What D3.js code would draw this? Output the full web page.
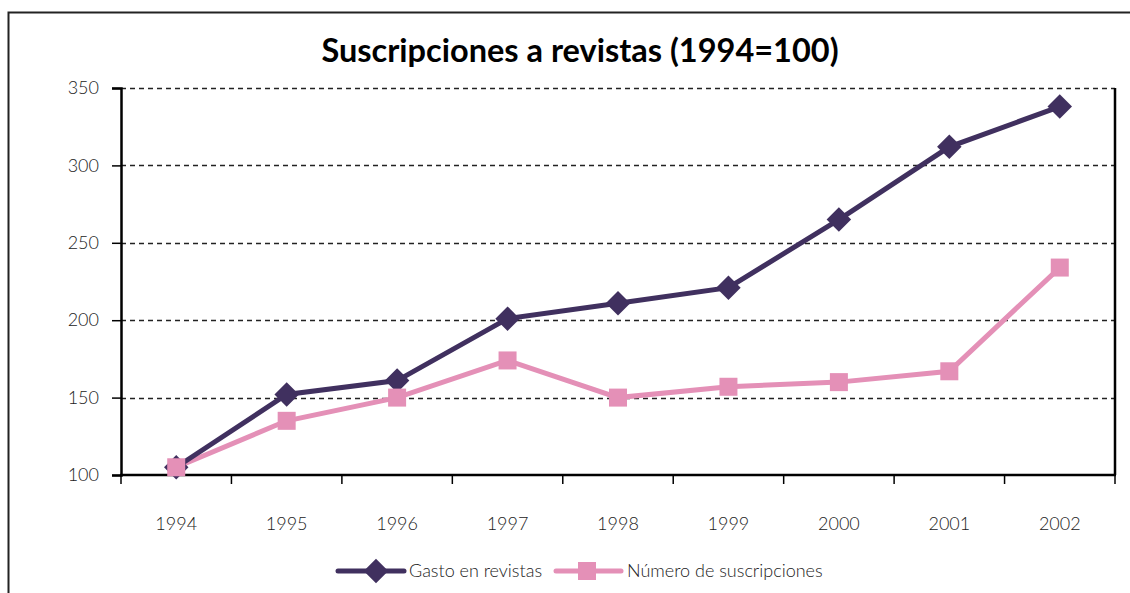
<!DOCTYPE html>
<html>
<head>
<meta charset="utf-8">
<script src="https://cdn.jsdelivr.net/npm/d3@7"></script>
<style>
  body { margin: 0; background: #fff; }
  text { font-family: Lato, "Open Sans", sans-serif; }
</style>
</head>
<body>
<div id="chart"></div>
<script>
// data
var years = ["1994", "1995", "1996", "1997", "1998", "1999", "2000", "2001", "2002"]
var gasto = [105, 152, 161, 201, 211, 221, 265, 312, 338]
var numero = [105, 135, 150, 174, 150, 157, 160, 167, 234]
var yTicks = [100, 150, 200, 250, 300, 350]

var width = 1130
var height = 593
var margin = { left: 121, right: 15, top: 88, bottom: 118 }

var svg = d3.select("#chart")
    .append("svg")
    .attr("width", width)
    .attr("height", height)

// outer frame (only top and left visible in picture)
svg.append("rect")
    .attr("x", 8.5).attr("y", 12.5)
    .attr("width", 1140).attr("height", 600)
    .attr("fill", "none")
    .attr("stroke", "#222")
    .attr("stroke-width", 2)

svg.append("text")
    .attr("x", 580).attr("y", 62)
    .attr("text-anchor", "middle")
    .style("font-size", "32.5px")
    .style("font-weight", "bold")
    .text("Suscripciones a revistas (1994=100)")

var x = d3.scaleBand()
    .domain(years)
    .range([margin.left, width - margin.right])

var y = d3.scaleLinear()
    .domain([100, 350])
    .range([height - margin.bottom, margin.top])

// gridlines
svg.append("g")
    .selectAll("line")
    .data(yTicks.slice(1))
    .enter()
    .append("line")
    .attr("x1", margin.left).attr("x2", width - margin.right)
    .attr("y1", function(d) { return Math.round(y(d)) + 0.5 })
    .attr("y2", function(d) { return Math.round(y(d)) + 0.5 })
    .attr("stroke", "#222")
    .attr("stroke-width", 1.4)
    .attr("stroke-dasharray", "5,4")

// right border line
svg.append("line")
    .attr("x1", width - margin.right).attr("x2", width - margin.right)
    .attr("y1", y(350)).attr("y2", y(100))
    .attr("stroke", "#000").attr("stroke-width", 2.5)

// y axis
var yAxis = svg.append("g")
    .attr("transform", "translate(" + margin.left + ",0)")
    .call(d3.axisLeft(y).tickValues(yTicks).tickSize(9).tickPadding(13))
yAxis.select(".domain").attr("stroke-width", 2.5)
yAxis.selectAll(".tick line").attr("stroke-width", 1.5)
yAxis.selectAll("text").style("font-size", "18px").style("font-weight", 300).attr("fill", "#222")

// x axis: ticks between categories
var xAxis = svg.append("g")
    .attr("transform", "translate(0," + y(100) + ")")
xAxis.append("line")
    .attr("x1", margin.left - 1).attr("x2", width - margin.right + 1)
    .attr("stroke", "#000").attr("stroke-width", 2.5)
var bounds = years.map(function(d) { return x(d) }).concat([x(years[years.length - 1]) + x.bandwidth()])
xAxis.selectAll(".xt")
    .data(bounds)
    .enter()
    .append("line")
    .attr("x1", function(d) { return d }).attr("x2", function(d) { return d })
    .attr("y1", 0).attr("y2", 9)
    .attr("stroke", "#000").attr("stroke-width", 1.5)
xAxis.selectAll(".xl")
    .data(years)
    .enter()
    .append("text")
    .attr("x", function(d) { return x(d) + x.bandwidth() / 2 })
    .attr("y", 55)
    .attr("text-anchor", "middle")
    .style("font-size", "18px")
    .style("font-weight", 300)
    .attr("fill", "#222")
    .text(function(d) { return d })

var cx = function(d, i) { return x(years[i]) + x.bandwidth() / 2 }

var purple = "#40305f"
var pink = "#e490b7"

var line = d3.line()
    .x(function(d, i) { return cx(d, i) })
    .y(function(d) { return y(d) })

svg.append("path").datum(numero)
    .attr("d", line).attr("fill", "none")
    .attr("stroke", pink).attr("stroke-width", 5)

svg.append("path").datum(gasto)
    .attr("d", line).attr("fill", "none")
    .attr("stroke", purple).attr("stroke-width", 5)

var diamond = d3.symbol().type(d3.symbolSquare).size(300)

svg.selectAll(".gm")
    .data(gasto)
    .enter()
    .append("path")
    .attr("d", diamond)
    .attr("transform", function(d, i) { return "translate(" + cx(d, i) + "," + y(d) + ") rotate(45)" })
    .attr("fill", purple)

svg.selectAll(".nm")
    .data(numero)
    .enter()
    .append("rect")
    .attr("x", function(d, i) { return cx(d, i) - 9 })
    .attr("y", function(d) { return y(d) - 9 })
    .attr("width", 18).attr("height", 18)
    .attr("fill", pink)

// legend
var ly = 571
var leg = svg.append("g")
leg.append("line").attr("x1", 338).attr("x2", 404).attr("y1", ly).attr("y2", ly)
    .attr("stroke", purple).attr("stroke-width", 5).attr("stroke-linecap", "round")
leg.append("path").attr("d", diamond)
    .attr("transform", "translate(376," + ly + ") rotate(45)")
    .attr("fill", purple)
leg.append("text").attr("x", 409).attr("y", ly + 6)
    .style("font-size", "18px").style("font-weight", 300).attr("fill", "#222")
    .text("Gasto en revistas")

leg.append("line").attr("x1", 556).attr("x2", 621).attr("y1", ly).attr("y2", ly)
    .attr("stroke", pink).attr("stroke-width", 5).attr("stroke-linecap", "round")
leg.append("rect").attr("x", 578).attr("y", ly - 9).attr("width", 18).attr("height", 18)
    .attr("fill", pink)
leg.append("text").attr("x", 627).attr("y", ly + 6)
    .style("font-size", "18px").style("font-weight", 300).attr("fill", "#222")
    .text("Número de suscripciones")
</script>
</body>
</html>
